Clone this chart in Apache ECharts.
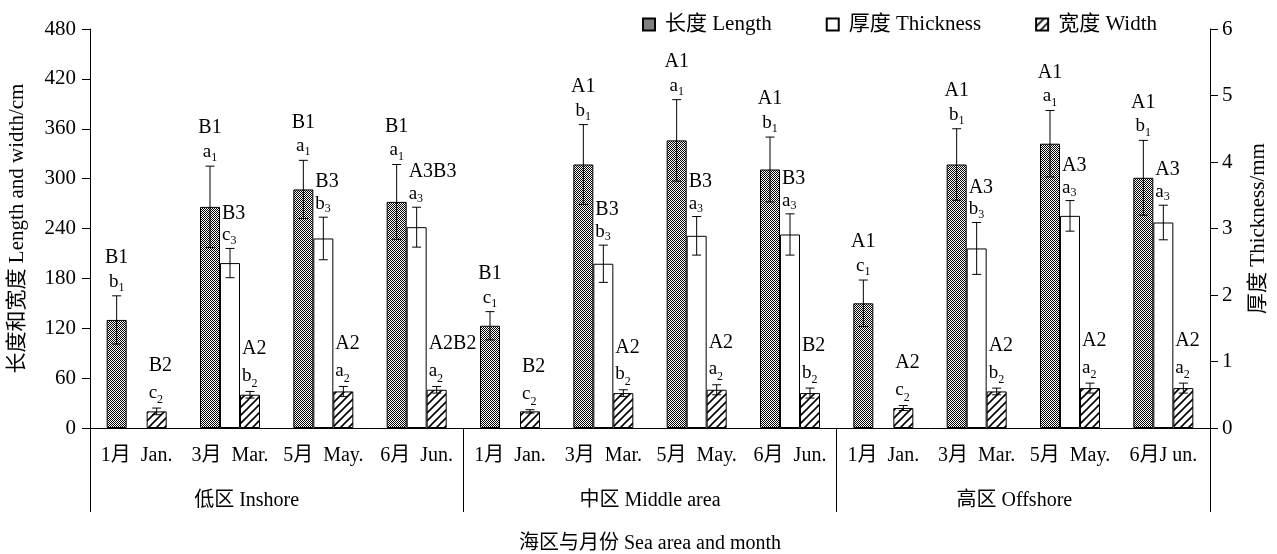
<!DOCTYPE html>
<html>
<head>
<meta charset="utf-8">
<script src="https://cdn.jsdelivr.net/npm/echarts@6/dist/echarts.min.js"></script>
<style>
  html, body { margin: 0; padding: 0; background: #fff; }
  #chart { width: 1277px; height: 554px; }
</style>
</head>
<body>
<div id="chart"></div>
<script>
// 月份和海区
const months = ['1月  Jan.', '3月  Mar.', '5月  May.', '6月  Jun.',
  '1月  Jan.', '3月  Mar.', '5月  May.', '6月  Jun.',
  '1月  Jan.', '3月  Mar.', '5月  May.', '6月J un.']
const areas = ['低区 Inshore', '中区 Middle area', '高区 Offshore']

// 长度 (cm)
const lengthMean = [130, 266, 287, 272, 123, 317, 346, 311, 150, 317, 342, 301]
const lengthSd = [29, 49, 35, 45, 17, 48, 49, 39, 28, 43, 40, 45]
const lengthUpper = ['B1', 'B1', 'B1', 'B1', 'B1', 'A1', 'A1', 'A1', 'A1', 'A1', 'A1', 'A1']
const lengthLower = ['b1', 'a1', 'a1', 'a1', 'c1', 'b1', 'a1', 'b1', 'c1', 'b1', 'a1', 'b1']

// 厚度 (mm), 1月没有
const thickMean = [null, 2.48, 2.85, 3.02, null, 2.47, 2.89, 2.91, null, 2.70, 3.19, 3.09]
const thickSd = [null, 0.22, 0.32, 0.30, null, 0.28, 0.29, 0.31, null, 0.39, 0.23, 0.26]
const thickUpper = [null, 'B3', 'B3', 'A3B3', null, 'B3', 'B3', 'B3', null, 'A3', 'A3', 'A3']
const thickLower = [null, 'c3', 'b3', 'a3', null, 'b3', 'a3', 'a3', null, 'b3', 'a3', 'a3']

// 宽度 (cm)
const widthMean = [20, 40, 44, 46, 20, 42, 46, 42, 24, 44, 48, 48]
const widthSd = [4, 4, 6, 4, 2, 4, 6, 6, 3, 4, 6, 6]
const widthUpper = ['B2', 'A2', 'A2', 'A2B2', 'B2', 'A2', 'A2', 'B2', 'A2', 'A2', 'A2', 'A2']
const widthLower = ['c2', 'b2', 'a2', 'a2', 'c2', 'b2', 'a2', 'b2', 'c2', 'b2', 'a2', 'a2']

const serif = "'Liberation Serif', 'Times New Roman', 'Noto Sans CJK SC', serif"
const barW = 20

// 填充图案
const checker = (() => {
  const c = document.createElement('canvas')
  c.width = 2; c.height = 2
  const ctx = c.getContext('2d')
  ctx.fillStyle = '#fff'; ctx.fillRect(0, 0, 2, 2)
  ctx.fillStyle = '#000'; ctx.fillRect(0, 0, 1, 1); ctx.fillRect(1, 1, 1, 1)
  return c
})()
const hatch = (() => {
  const c = document.createElement('canvas')
  c.width = 8; c.height = 8
  const ctx = c.getContext('2d')
  ctx.fillStyle = '#fff'; ctx.fillRect(0, 0, 8, 8)
  ctx.strokeStyle = '#000'; ctx.lineWidth = 1.6
  ctx.beginPath()
  ctx.moveTo(-1, 9); ctx.lineTo(9, -1)
  ctx.moveTo(-1, 1); ctx.lineTo(1, -1)
  ctx.moveTo(7, 9); ctx.lineTo(9, 7)
  ctx.stroke()
  return c
})()

const rich = (lh) => ({
  u: { fontFamily: serif, fontSize: 20, lineHeight: lh, fill: '#000' },
  l: { fontFamily: serif, fontSize: 19, lineHeight: lh, fill: '#000' },
  s: { fontFamily: serif, fontSize: 12, lineHeight: lh, verticalAlign: 'bottom', fill: '#000' }
})

// 误差线和显著性字母
const errorSeries = (name, mean, sd, upper, lower, slot, yIndex, leftAlign, lh, gap) => {
  const data = []
  mean.forEach((v, i) => { if (v != null) data.push([i, v, sd[i]]) })
  return {
    type: 'custom',
    name: name,
    yAxisIndex: yIndex,
    z: 5,
    silent: true,
    data: data,
    renderItem: (params, api) => {
      const i = api.value(0)
      const m = api.value(1)
      const e = api.value(2)
      const top = api.coord([i, m + e])
      const bot = api.coord([i, m - e])
      const x = top[0] + slot * barW
      const lw = lower[i]
      const txt = '{u|' + upper[i] + '}\n{l|' + lw[0] + '}{s|' + lw.slice(1) + '}'
      return {
        type: 'group',
        children: [
          { type: 'line', shape: { x1: x, y1: top[1], x2: x, y2: bot[1] }, style: { stroke: '#000', lineWidth: 1 } },
          { type: 'line', shape: { x1: x - 4.5, y1: top[1], x2: x + 4.5, y2: top[1] }, style: { stroke: '#000', lineWidth: 1 } },
          { type: 'line', shape: { x1: x - 4.5, y1: bot[1], x2: x + 4.5, y2: bot[1] }, style: { stroke: '#000', lineWidth: 1 } },
          {
            type: 'text',
            x: leftAlign ? x - 8 : x,
            y: top[1] - gap,
            style: {
              text: txt,
              rich: rich(lh),
              align: leftAlign ? 'left' : 'center',
              verticalAlign: 'bottom'
            }
          }
        ]
      }
    }
  }
}

const chart = echarts.init(document.getElementById('chart'))
chart.setOption({
  animation: false,
  textStyle: { fontFamily: serif, color: '#000' },
  legend: {
    data: ['长度 Length', '厚度 Thickness', '宽度 Width'],
    icon: 'rect',
    top: 9,
    left: 637,
    itemWidth: 12,
    itemHeight: 12,
    itemGap: 54,
    textStyle: { fontFamily: serif, fontSize: 21, color: '#000', padding: [0, 0, 0, 5] }
  },
  grid: { left: 90, right: 67, top: 29, bottom: 126, outerBoundsMode: 'none', containLabel: false },
  xAxis: [
    {
      type: 'category',
      data: months,
      axisLine: { lineStyle: { color: '#000', width: 1 } },
      axisTick: { show: false },
      axisLabel: { margin: 18, fontSize: 20, color: '#000', fontFamily: serif, interval: 0 }
    },
    {
      type: 'category',
      data: areas,
      position: 'bottom',
      axisLine: { show: false },
      axisTick: { show: true, length: 84, lineStyle: { color: '#000', width: 1 } },
      axisLabel: {
        margin: 63,
        fontSize: 20,
        color: '#000',
        fontFamily: serif,
        // 原图里各海区名称并不完全居中
        formatter: (v, i) => i === 0 ? '{a|' + v + '}' : i === 2 ? '{c|' + v + '}' : v,
        rich: {
          a: { fontSize: 20, fontFamily: serif, color: '#000', padding: [0, 60, 0, 0] },
          c: { fontSize: 20, fontFamily: serif, color: '#000', padding: [0, 18, 0, 0] }
        }
      },
      name: '海区与月份 Sea area and month',
      nameLocation: 'middle',
      nameGap: 106,
      nameTextStyle: { fontSize: 20, color: '#000', fontFamily: serif }
    }
  ],
  yAxis: [
    {
      type: 'value',
      min: 0,
      max: 480,
      interval: 60,
      splitLine: { show: false },
      axisLine: { show: true, lineStyle: { color: '#000', width: 1 } },
      axisTick: { show: true, length: 8, lineStyle: { color: '#000' } },
      axisLabel: { margin: 14, fontSize: 21, color: '#000', fontFamily: serif },
      name: '长度和宽度 Length and width/cm',
      nameLocation: 'middle',
      nameGap: 62,
      nameRotate: 90,
      nameTextStyle: { fontSize: 21, color: '#000', fontFamily: serif }
    },
    {
      type: 'value',
      min: 0,
      max: 6,
      interval: 1,
      position: 'right',
      splitLine: { show: false },
      axisLine: { show: true, lineStyle: { color: '#000', width: 1 } },
      axisTick: { show: true, length: 8, lineStyle: { color: '#000' } },
      axisLabel: { margin: 12, fontSize: 21, color: '#000', fontFamily: serif },
      name: '厚度 Thickness/mm',
      nameLocation: 'middle',
      nameGap: 38,
      nameRotate: 90,
      nameTextStyle: { fontSize: 21, color: '#000', fontFamily: serif }
    }
  ],
  series: [
    {
      name: '长度 Length',
      type: 'bar',
      barWidth: barW,
      barGap: '0%',
      data: lengthMean,
      itemStyle: { color: { image: checker, repeat: 'repeat' }, borderColor: '#000', borderWidth: 1 }
    },
    {
      name: '厚度 Thickness',
      type: 'bar',
      yAxisIndex: 1,
      barWidth: barW,
      barGap: '0%',
      data: thickMean,
      itemStyle: { color: '#fff', borderColor: '#000', borderWidth: 1 }
    },
    {
      name: '宽度 Width',
      type: 'bar',
      barWidth: barW,
      barGap: '0%',
      data: widthMean,
      itemStyle: { color: { image: hatch, repeat: 'repeat' }, borderColor: '#000', borderWidth: 1 }
    },
    errorSeries('lengthErr', lengthMean, lengthSd, lengthUpper, lengthLower, -1, 0, false, 24, 2),
    errorSeries('thickErr', thickMean, thickSd, thickUpper, thickLower, 0, 1, true, 22, 2),
    errorSeries('widthErr', widthMean, widthSd, widthUpper, widthLower, 1, 0, true, 27, 2)
  ]
})
</script>
</body>
</html>
